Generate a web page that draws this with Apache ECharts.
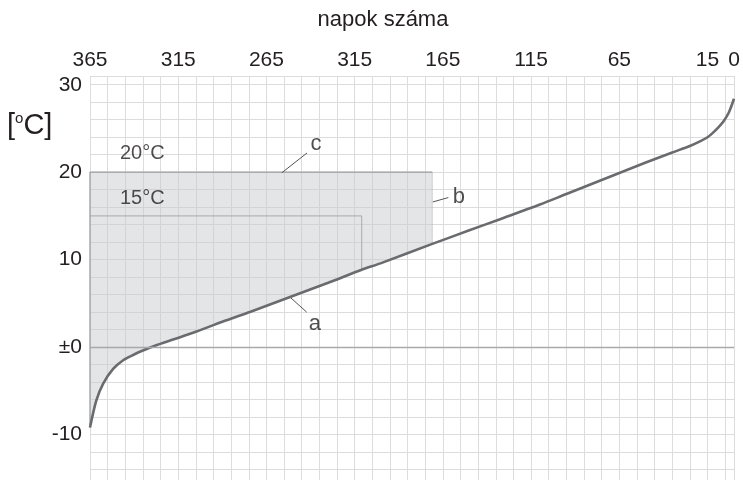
<!DOCTYPE html>
<html>
<head>
	<meta charset="utf-8">
	<script src="https://cdn.jsdelivr.net/npm/echarts@6/dist/echarts.min.js"></script>
</head>
<body style="margin:0;">
	<div id="main" style="width: 743px;height:480px;"></div>
	<script type="text/javascript">
        // napok száma (tartamgörbe) és hőmérséklet
        var curveDays  = [365, 361.4, 357.6, 351.9, 346.2, 340, 335.7, 328.2, 318.8, 305, 290, 274, 252, 230, 211, 200, 171, 150, 133, 110, 95, 80, 65, 50, 35, 25, 19, 15, 12, 9, 6, 3, 0];
        var curveTemps = [-9.2, -6.1, -4.2, -2.5, -1.5, -0.85, -0.45, 0.15, 0.8, 1.75, 2.9, 4.05, 5.7, 7.35, 8.85, 9.6, 11.8, 13.35, 14.6, 16.3, 17.5, 18.7, 19.9, 21.1, 22.25, 23.0, 23.55, 24.0, 24.5, 25.1, 25.8, 26.8, 28.4];

        // felső tengely feliratai (az eredetin a 215 helyén 315 áll)
        var xTickDays   = [365, 315, 265, 215, 165, 115, 65, 15, 0];
        var xTickLabels = ['365', '315', '265', '315', '165', '115', '65', '15', '0'];

        // határhőmérsékletek és a hozzájuk tartozó utolsó nap
        var limitTemps = [20, 15];
        var limitDays  = [171, 211];

        // feliratok: szöveg, nap, hőmérséklet
        var noteTexts = ['a', 'b', 'c'];
        var noteDays  = [237.6, 156, 236.9];
        var noteTemps = [2.6, 17.2, 23.2];
        // vezetővonalak: [nap1, t1, nap2, t2]
        var leaders = [
            [251.6, 5.7, 242.2, 4.0],
            [170.7, 16.6, 161.9, 17.1],
            [256.3, 19.93, 242, 22.2]
        ];
        var limitLabelDay = 348;
        var limitLabelTemps = [22.1, 17.0];

        var FONT = "'Liberation Sans', Arial, sans-serif";
        function X(day) { return 365 - day; }

        var curve = curveDays.map(function (d, i) { return [X(d), curveTemps[i]]; });

        var myChart = echarts.init(document.getElementById('main'));
        var option = {
            animation: false,
            backgroundColor: '#fff',
            textStyle: {fontFamily: FONT},
            title: {
                text: 'napok száma',
                left: 378,
                textAlign: 'center',
                top: 4,
                textStyle: {fontSize: 22, fontWeight: 'normal', color: '#231f20', fontFamily: FONT}
            },
            graphic: [{
                type: 'text',
                left: 7,
                top: 111,
                style: {
                    text: '[{s|o}C]',
                    rich: {s: {fontSize: 15, verticalAlign: 'top', padding: [0, 0, 12, 0], fill: '#231f20'}},
                    fontSize: 29,
                    fontFamily: FONT,
                    fill: '#231f20'
                }
            }],
            grid: {left: 90, right: 9, top: 76, height: 411, outerBoundsMode: 'none', containLabel: false},
            xAxis: {
                type: 'value',
                position: 'top',
                min: 0,
                max: 365,
                interval: 10,
                axisLine: {show: false},
                axisTick: {show: false},
                axisLabel: {
                    showMinLabel: true,
                    showMaxLabel: true,
                    margin: 5,
                    fontSize: 21,
                    color: '#231f20',
                    fontFamily: FONT,
                    formatter: function (v) {
                        var i = xTickDays.map(X).indexOf(v);
                        return i >= 0 ? xTickLabels[i] : '';
                    }
                },
                splitLine: {lineStyle: {color: '#dcdcdc', width: 1}}
            },
            yAxis: {
                type: 'value',
                min: -16,
                max: 31,
                interval: 2,
                axisLine: {show: false},
                axisTick: {show: false},
                axisLabel: {
                    margin: 8,
                    fontSize: 21,
                    color: '#231f20',
                    fontFamily: FONT,
                    formatter: function (v) {
                        if (v % 10 !== 0) return '';
                        return v === 0 ? '±0' : String(v);
                    }
                },
                splitLine: {lineStyle: {color: '#dcdcdc', width: 1}}
            },
            series: [
            {
                // szürke terület
                type: 'custom',
                data: [[0, 0]],
                silent: true,
                z: 1,
                renderItem: function (params, api) {
                    var pts = [api.coord([X(365), limitTemps[0]]), api.coord([X(limitDays[0]), limitTemps[0]])];
                    for (var i = curve.length - 1; i >= 0; i--) {
                        if (curveDays[i] >= limitDays[0]) pts.push(api.coord(curve[i]));
                    }
                    return {
                        type: 'polygon',
                        shape: {points: pts},
                        style: {fill: 'rgba(198,200,205,0.48)', stroke: 'rgba(170,172,176,0.6)', lineWidth: 0.8}
                    };
                }
            },
            {
                // 20 °C keret
                type: 'line',
                symbol: 'none',
                silent: true,
                z: 2,
                lineStyle: {color: '#a2a3a6', width: 1.2},
                data: [[X(365), curveTemps[0]], [X(365), limitTemps[0]], [X(limitDays[0]), limitTemps[0]]]
            },
            {
                // 15 °C keret
                type: 'line',
                symbol: 'none',
                silent: true,
                z: 2,
                lineStyle: {color: '#a9aaad', width: 1},
                data: [[X(365), limitTemps[1]], [X(limitDays[1]), limitTemps[1]], [X(limitDays[1]), curveTemps[curveDays.indexOf(limitDays[1])]]]
            },
            {
                // vezetővonalak
                type: 'line',
                symbol: 'none',
                silent: true,
                z: 3,
                connectNulls: false,
                lineStyle: {color: '#555', width: 1},
                data: leaders.reduce(function (acc, l) {
                    return acc.concat([[X(l[0]), l[1]], [X(l[2]), l[3]], [null, null]]);
                }, [])
            },
            {
                // tartamgörbe
                type: 'line',
                symbol: 'none',
                smooth: 0.3,
                z: 4,
                lineStyle: {color: '#6a6b6e', width: 2.6},
                data: curve,
                markLine: {
                    silent: true,
                    symbol: 'none',
                    label: {show: false},
                    lineStyle: {color: '#a8a9ac', width: 1.3, type: 'solid'},
                    data: [{yAxis: 0}]
                }
            },
            {
                type: 'scatter',
                symbolSize: 0,
                silent: true,
                z: 5,
                label: {
                    show: true,
                    position: 'inside',
                    fontSize: 22,
                    color: '#231f20',
                    fontFamily: FONT,
                    formatter: function (p) { return p.name; }
                },
                data: noteTexts.map(function (t, i) {
                    return {name: t, value: [X(noteDays[i]), noteTemps[i]]};
                })
            },
            {
                type: 'scatter',
                symbolSize: 0,
                silent: true,
                z: 5,
                label: {
                    show: true,
                    position: 'right',
                    distance: 0,
                    fontSize: 20,
                    color: '#231f20',
                    fontFamily: FONT,
                    formatter: function (p) { return p.name; }
                },
                data: limitTemps.map(function (t, i) {
                    return {name: t + '°C', value: [X(limitLabelDay), limitLabelTemps[i]]};
                })
            }
            ]
        };
        myChart.setOption(option);
    </script>
</body>
</html>
